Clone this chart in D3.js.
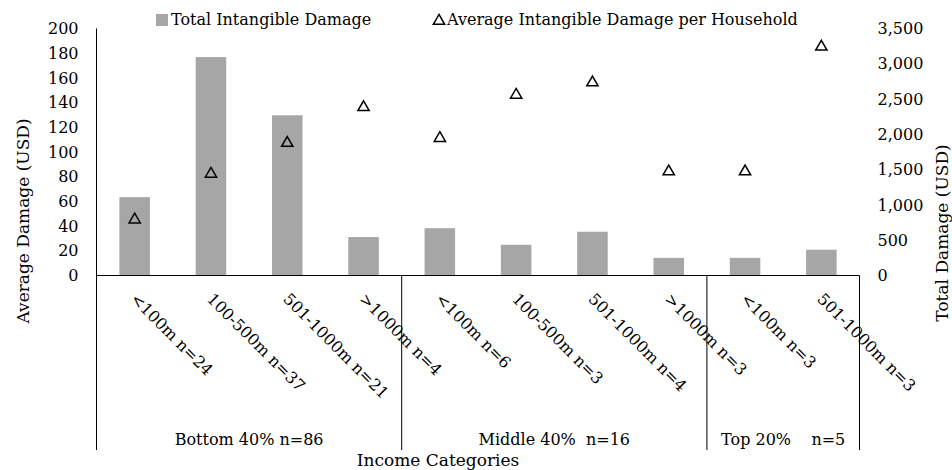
<!DOCTYPE html>
<html>
<head>
<meta charset="utf-8">
<script src="https://cdn.jsdelivr.net/npm/d3@7"></script>
<style>
  body { margin: 0; background: #fff; }
  text { font-family: "DejaVu Serif", serif; font-size: 16px; fill: #000; }
</style>
</head>
<body>
<script>
// 类别与数据
var categories = ['<100m n=24', '100-500m n=37', '501-1000m n=21', '>1000m n=4',
                  '<100m n=6', '100-500m n=3', '501-1000m n=4', '>1000m n=3',
                  '<100m n=3', '501-1000m n=3'];
var groups = ['Bottom 40% n=86', 'Middle 40%  n=16', 'Top 20%    n=5'];
var groupSizes = [4, 4, 2];
var totalDamage = [1110, 3095, 2270, 545, 670, 435, 620, 250, 250, 365];
var avgDamage = [46, 83, 108, 137, 112, 147, 157, 85, 85, 186];
var leftTicks = [0, 20, 40, 60, 80, 100, 120, 140, 160, 180, 200];
var rightTicks = [0, 500, 1000, 1500, 2000, 2500, 3000, 3500];

var chartW = 952, chartH = 470;
var plotL = 96.5, plotR = 859.5, plotT = 28.5, base = 275.5, plotB = 450;

var svg = d3.select('body').append('svg').attr('width', chartW).attr('height', chartH);

var x = d3.scaleBand().domain(d3.range(categories.length)).range([plotL, plotR]).paddingInner(0.6).paddingOuter(0.3);
var xc = d3.scaleBand().domain(d3.range(categories.length)).range([plotL, plotR]);
var yL = d3.scaleLinear().domain([0, 200]).range([base, plotT]);
var yR = d3.scaleLinear().domain([0, 3500]).range([base, plotT]);

// 柱子
svg.selectAll('.bar').data(totalDamage).enter().append('rect')
    .attr('x', function (d, i) { return x(i); })
    .attr('y', function (d) { return yR(d); })
    .attr('width', x.bandwidth())
    .attr('height', function (d) { return base - yR(d); })
    .attr('fill', '#a6a6a6');

// 左轴
var axisL = svg.append('g').attr('transform', 'translate(' + plotL + ',0)')
    .call(d3.axisLeft(yL).tickValues(leftTicks).tickSize(0).tickPadding(18));
axisL.select('.domain').remove();
axisL.selectAll('text').style('font-family', '"DejaVu Serif", serif').style('font-size', '16px');
svg.append('line').attr('x1', plotL).attr('x2', plotL).attr('y1', plotT).attr('y2', plotB).attr('stroke', '#000');

// 右轴
var axisR = svg.append('g').attr('transform', 'translate(' + plotR + ',0)')
    .call(d3.axisRight(yR).tickValues(rightTicks).tickSize(0).tickPadding(18).tickFormat(d3.format(',')));
axisR.select('.domain').remove();
axisR.selectAll('text').style('font-family', '"DejaVu Serif", serif').style('font-size', '16px');

// 底部线
svg.append('line').attr('x1', plotL).attr('x2', plotR).attr('y1', base).attr('y2', base).attr('stroke', '#000');

// 分组竖线
var acc = 0;
var bounds = [0];
groupSizes.forEach(function (n) { acc += n; bounds.push(acc); });
function bx(b) { return b < categories.length ? xc(b) : plotR; }
bounds.forEach(function (b, i) {
    if (i > 0) {
        svg.append('line').attr('x1', bx(b)).attr('x2', bx(b)).attr('y1', base).attr('y2', plotB).attr('stroke', '#000');
    }
});
groups.forEach(function (g, i) {
    svg.append('text').attr('x', (bx(bounds[i]) + bx(bounds[i + 1])) / 2).attr('y', 445)
        .attr('text-anchor', 'middle').style('white-space', 'pre').text(g);
});

// 类别标签（45度）
svg.selectAll('.cat').data(categories).enter().append('text')
    .attr('transform', function (d, i) { return 'translate(' + (xc(i) + xc.bandwidth() / 2 - 5) + ',300) rotate(45)'; })
    .attr('text-anchor', 'start')
    .style('white-space', 'pre')
    .text(function (d) { return d; });

// 三角形
var tri = d3.symbol().type(d3.symbolTriangle).size(55);
svg.selectAll('.tri').data(avgDamage).enter().append('path')
    .attr('d', tri)
    .attr('transform', function (d, i) { return 'translate(' + (xc(i) + xc.bandwidth() / 2) + ',' + (yL(d) + 1) + ')'; })
    .attr('fill', 'none').attr('stroke', '#000').attr('stroke-width', 1.5);

// 轴标题
svg.append('text').attr('transform', 'translate(29,221) rotate(-90)').attr('text-anchor', 'middle').style('font-size', '17px').text('Average Damage (USD)');
svg.append('text').attr('transform', 'translate(948,233) rotate(-90)').attr('text-anchor', 'middle').style('font-size', '17px').text('Total Damage (USD)');
svg.append('text').attr('x', 438).attr('y', 466).attr('text-anchor', 'middle').style('font-size', '17px').text('Income Categories');

// 图例
svg.append('rect').attr('x', 156).attr('y', 14).attr('width', 12).attr('height', 12).attr('fill', '#a6a6a6');
svg.append('text').attr('x', 171).attr('y', 25).text('Total Intangible Damage');
svg.append('path').attr('d', tri).attr('transform', 'translate(439,21)').attr('fill', 'none').attr('stroke', '#000').attr('stroke-width', 1.5);
svg.append('text').attr('x', 447).attr('y', 25).text('Average Intangible Damage per Household');
</script>
</body>
</html>
